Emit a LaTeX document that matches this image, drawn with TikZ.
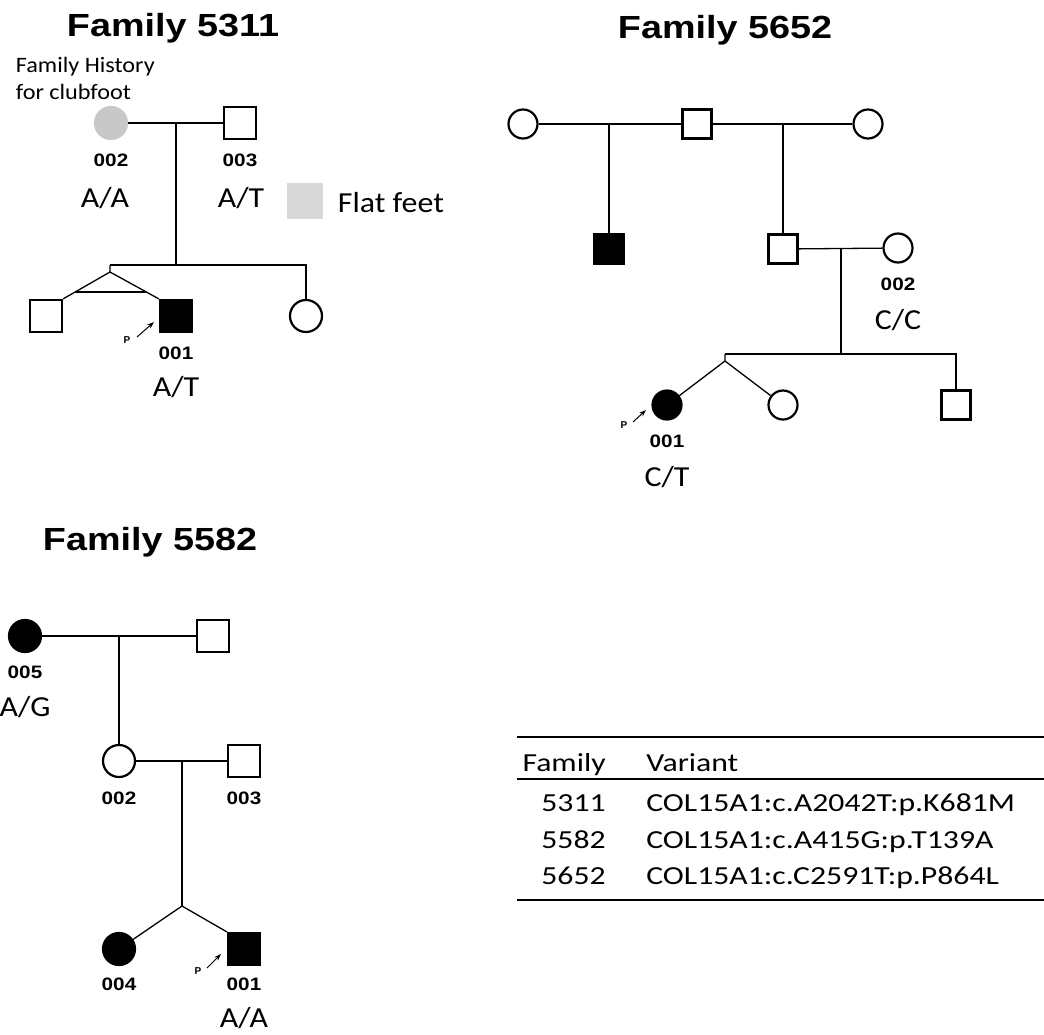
\documentclass[tikz,border=0pt]{standalone}
\usepackage{fontspec}
\setmainfont{Carlito}
\newfontfamily\arialfont{Liberation Sans}
\usetikzlibrary{arrows.meta,calc}

\definecolor{flatgray}{RGB}{200, 200, 200}
\definecolor{leggray}{RGB}{217, 217, 217}

\tikzset{
	ind/.style={draw=black, line width=2.2pt, fill=white, inner sep=0pt, minimum size=32pt},
	male/.style={ind, rectangle},
	female/.style={ind, circle},
	small/.style={minimum size=29pt},
	affected/.style={fill=black},
	flatfeet/.style={fill=flatgray, draw=flatgray},
	rel/.style={line width=1.3pt},
	parrow/.style={line width=1pt, -{Stealth[length=7pt, width=5pt]}},
	famtitle/.style={font=\arialfont\bfseries\fontsize{32}{32}\selectfont, xscale=1.18},
	idlab/.style={font=\arialfont\bfseries\fontsize{18}{18}\selectfont, xscale=1.15},
	plab/.style={font=\arialfont\bfseries\fontsize{10}{10}\selectfont, inner sep=1pt},
	gtlab/.style={font=\fontsize{29}{29}\selectfont, xscale=1.1},
	note/.style={font=\fontsize{22}{27}\selectfont, xscale=1.1, align=left},
	tabtext/.style={font=\fontsize{26}{26}\selectfont, xscale=1.22},
}

\begin{document}
\begin{tikzpicture}[x=1pt, y=-1pt]
	\useasboundingbox (0,0) rectangle (1044,1034);
	
	% Familie 5311
	\node[famtitle] (t5311) at (173,28) {Family 5311};
	\node[note, anchor=west] (hist) at (12,78) {Family History\\for clubfoot};
	
	\node[female, flatfeet] (a2) at (111,123) {};
	\node[male] (a3) at (240,123) {};
	\coordinate (am) at (176,123);
	\coordinate (as) at (176,265);
	\coordinate (asl) at (110,265);
	\coordinate (asr) at (306,265);
	\coordinate (atw) at (110,272);
	\node[male] (a1t) at (46,316) {};
	\node[male, affected] (a1) at (176,316) {};
	\node[female] (a4) at (306,316) {};
	
	\draw[rel] (a2) -- (a3);
	\draw[rel] (am) -- (as);
	\draw[rel] (asl) -- (asr) -- (a4);
	% Zwillinge (eineiig)
	\draw[rel] (asl) -- (atw) -- (a1t.north east);
	\draw[rel] (atw) -- (a1.north west);
	\draw[rel] ($(atw)!0.74!(a1t.north east)$) -- ($(atw)!0.74!(a1.north west)$);
	
	\node[idlab] (a2id) at (111,160) {002};
	\node[gtlab] (a2gt) at (105,198) {A/A};
	\node[idlab] (a3id) at (240,160) {003};
	\node[gtlab] (a3gt) at (241,198) {A/T};
	\node[idlab] (a1id) at (176,353) {001};
	\node[gtlab] (a1gt) at (176,387) {A/T};
	\node[plab] (ap) at (127,340) {P};
	\coordinate (aps) at (137,337);
	\coordinate (ape) at (154,322);
	\draw[parrow] (aps) -- (ape);
	
	% Legende
	\node[rectangle, fill=leggray, minimum size=36pt, inner sep=0pt] (leg) at (305,201) {};
	\node[gtlab, anchor=west] (legtxt) at (334,203) {Flat feet};
	
	% Familie 5652
	\node[famtitle] (t5652) at (725,30) {Family 5652};
	
	\node[female, small] (b1) at (523,124) {};
	\node[male, small] (b2) at (697,124) {};
	\node[female, small] (b3) at (868,124) {};
	\coordinate (bm1) at (609,124);
	\coordinate (bm2) at (783,124);
	\node[male, small, affected] (b4) at (609,249) {};
	\node[male, small] (b5) at (783,249) {};
	\node[female, small] (b6) at (898,248) {};
	\coordinate (bm3) at (841,248);
	\coordinate (bs) at (841,354);
	\coordinate (bsl) at (725,354);
	\coordinate (bsr) at (956,354);
	\coordinate (btw) at (725,361);
	\node[female, small, affected] (b7) at (667,405) {};
	\node[female, small] (b8) at (783,405) {};
	\node[male, small] (b9) at (956,405) {};
	
	\draw[rel] (b1) -- (b2);
	\draw[rel] (b2) -- (b3);
	\draw[rel] (bm1) -- (b4);
	\draw[rel] (bm2) -- (b5);
	\draw[rel] (b5) -- (b6);
	\draw[rel] (bm3) -- (bs);
	\draw[rel] (bsl) -- (bsr) -- (b9);
	% Zwillinge (zweieiig)
	\draw[rel] (bsl) -- (btw) -- (b7);
	\draw[rel] (btw) -- (b8);
	
	\node[idlab] (b6id) at (898,284) {002};
	\node[gtlab] (b6gt) at (898,320) {C/C};
	\node[idlab] (b7id) at (667,441) {001};
	\node[gtlab] (b7gt) at (667,477) {C/T};
	\node[plab] (bp) at (624,425) {P};
	\coordinate (bps) at (633,422);
	\coordinate (bpe) at (646,410);
	\draw[parrow] (bps) -- (bpe);
	
	% Familie 5582
	\node[famtitle] (t5582) at (150,542) {Family 5582};
	
	\node[female, affected] (c5) at (25,636) {};
	\node[male] (c6) at (213,636) {};
	\coordinate (cm1) at (119,636);
	\node[female] (c2) at (119,761) {};
	\node[male] (c3) at (244,761) {};
	\coordinate (cm2) at (182,761);
	\coordinate (cs) at (182,906);
	\node[female, affected] (c4) at (119,949) {};
	\node[male, affected] (c1) at (244,949) {};
	
	\draw[rel] (c5) -- (c6);
	\draw[rel] (cm1) -- (c2);
	\draw[rel] (c2) -- (c3);
	\draw[rel] (cm2) -- (cs);
	\draw[rel] (cs) -- (c4);
	\draw[rel] (cs) -- (c1.north west);
	
	\node[idlab] (c5id) at (25,672) {005};
	\node[gtlab] (c5gt) at (25,707) {A/G};
	\node[idlab] (c2id) at (119,798) {002};
	\node[idlab] (c3id) at (244,798) {003};
	\node[idlab] (c4id) at (119,984) {004};
	\node[idlab] (c1id) at (244,984) {001};
	\node[gtlab] (c1gt) at (244,1018) {A/A};
	\node[plab] (cp) at (198,971) {P};
	\coordinate (cps) at (207,968);
	\coordinate (cpe) at (221,954);
	\draw[parrow] (cps) -- (cpe);
	
	% Tabelle der Varianten
	\draw[line width=2pt] (517,737) -- (1044,737);
	\draw[line width=1.3pt] (517,779) -- (1044,779);
	\draw[line width=2pt] (517,900) -- (1044,900);
	\node[tabtext, anchor=base east] (hfam) at (610,771) {Family};
	\node[tabtext, anchor=base west] (hvar) at (642,771) {Variant};
	\foreach \fam/\var/\y in {5311/COL15A1:c.A2042T:p.K681M/811, 5582/COL15A1:c.A415G:p.T139A/848, 5652/COL15A1:c.C2591T:p.P864L/884} {
		\node[tabtext, anchor=base east] at (610,\y) {\fam};
		\node[tabtext, anchor=base west] at (642,\y) {\var};
	}
	
\end{tikzpicture}
\end{document}
